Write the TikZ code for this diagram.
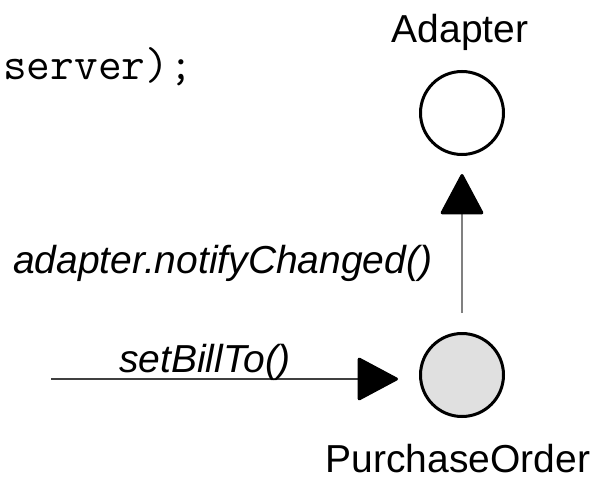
\documentclass[tikz,border=0pt]{standalone}
\usepackage{fontspec}
\setmainfont{Liberation Sans}
\usepackage{tikz}
\usetikzlibrary{positioning, arrows.meta, calc}
\usepackage{xcolor}
\definecolor{objFill}{HTML}{E0E0E0}
\definecolor{msgLine}{HTML}{808080}
\definecolor{callLine}{HTML}{404040}

\begin{document}
\begin{tikzpicture}[x=1pt, y=-1pt,
    obj/.style={circle, draw=black, line width=3pt, minimum size=83pt, inner sep=0pt},
    lbl/.style={inner sep=0pt, font=\fontsize{39}{46}\selectfont},
    msg/.style={draw=msgLine, line width=1.3pt,
      -{Triangle[length=42pt, width=44pt, round, line width=3pt, color=black]}}]
        % Marco (596x484)
        \useasboundingbox (0,0) rectangle (596,484);
        % Objetos
        \node[obj, fill=white] (adapter) at (462,113) {};
        \node[obj, fill=objFill] (po) at (462,375) {};
        % Nombres
        \node[lbl, anchor=base] (adapterName) at (460,43) {Adapter};
        \node[lbl, anchor=base] (poName) at (458,472) {PurchaseOrder};
        % Codigo cortado a la izquierda
        \node[inner sep=0pt, anchor=base east, font=\fontsize{46}{52}\ttfamily] (code) at (193,80) {server);};
        % Mensajes
        \coordinate (caller) at (51,379);
        \draw[msg, draw=callLine, line width=1.6pt, shorten >=21pt] (caller) -- (caller -| po.west);
        \draw[msg, shorten <=19pt, shorten >=18pt] (po.north) -- (adapter.south);
        \node[lbl, anchor=base, font=\fontsize{39}{46}\itshape] (setMsg) at (205,372) {setBillTo()};
        \node[lbl, anchor=base west, font=\fontsize{39}{46}\itshape] (notifyMsg) at (13,273) {adapter.notifyChanged()};
      \end{tikzpicture}
\end{document}
